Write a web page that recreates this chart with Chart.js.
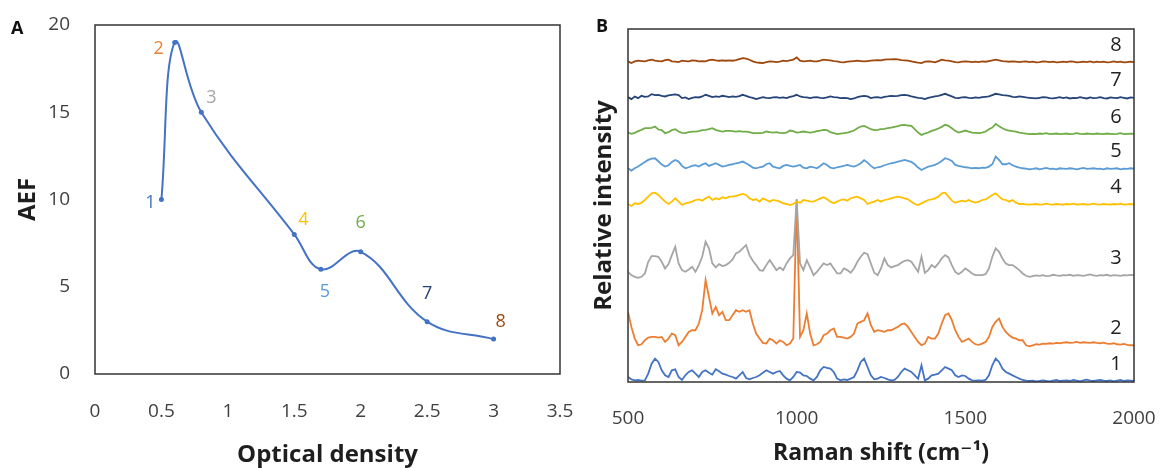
<!DOCTYPE html>
<html><head><meta charset="utf-8">
<script src="https://cdn.jsdelivr.net/npm/chart.js@4/dist/chart.umd.min.js"></script>
<style>
html,body{margin:0;padding:0;background:#fff;}
#wrap{position:relative;width:1163px;height:468px;overflow:hidden;font-family:'Open Sans',sans-serif;}
#ca{position:absolute;left:0;top:0;}
#cb{position:absolute;left:590px;top:0;}
.panel{position:absolute;font-weight:bold;font-size:18px;line-height:24px;color:#111;}
</style></head><body>
<div id="wrap">
<canvas id="ca" width="590" height="468"></canvas>
<canvas id="cb" width="573" height="468"></canvas>
<div class="panel" style="left:11px;top:15px">A</div>
<div class="panel" style="left:596px;top:13px">B</div>
</div>
<script>
// ---------- Panel A data ----------
const odValues   = [0.5, 0.6, 0.8, 1.5, 1.7, 2.0, 2.5, 3.0];
const aefValues  = [10, 19, 15, 8, 6, 7, 3, 2];
const pointLabels = ['1','2','3','4','5','6','7','8'];
const xTickStepA = 0.5, xMinA = 0, xMaxA = 3.5;
const yTickStepA = 5, yMinA = 0, yMaxA = 20;

// ---------- Panel B data ----------
const ramanStart = 500, ramanEnd = 2000, ramanStep = 10;
const xTicksB = [500, 1000, 1500, 2000];
const spectrumNames = ['1','2','3','4','5','6','7','8'];
const stackOffsets = [0, 105, 315, 530, 637, 742, 849, 957];
const spec1 = [
 15,8,5,6,4,5,25,55,70,60,
 35,20,15,35,38,15,6,20,30,35,
 25,15,30,35,28,22,38,32,25,22,
 18,15,10,20,30,12,8,12,15,20,
 28,35,30,25,30,33,20,10,5,15,
 30,28,20,18,10,5,15,35,45,42,
 40,30,10,5,8,6,10,15,35,60,
 70,45,20,8,10,15,12,8,5,6,
 15,30,40,35,30,20,10,50,5,10,
 20,22,25,35,45,40,35,20,15,20,
 18,10,5,4,5,4,6,20,50,70,
 60,40,30,25,20,15,10,6,4,3,
 4,2,3,5,3,2,4,6,3,4,
 5,3,6,4,2,5,7,4,3,5,
 6,4,3,5,2,4,6,3,5,4,
 3];
const spec2 = [
 105,60,25,5,8,20,28,30,30,28,
 30,15,25,40,35,5,15,30,45,50,
 50,70,110,200,150,100,120,95,105,80,
 80,95,110,105,110,105,110,70,40,25,
 12,10,25,20,10,20,15,5,10,25,
 440,30,50,100,40,5,8,15,35,40,
 50,55,30,30,28,25,30,40,70,75,
 80,100,65,45,50,48,45,50,50,55,
 60,68,70,60,45,30,15,5,10,30,
 25,25,40,70,95,100,80,50,30,15,
 20,25,15,8,6,10,15,30,60,75,
 85,60,45,35,28,25,20,20,5,2,
 5,8,7,10,9,11,10,12,11,13,
 14,12,13,15,12,14,13,12,14,12,
 11,13,10,9,11,8,7,9,6,5,
 5];
const spec3 = [
 15,5,0,-3,0,10,45,62,62,60,
 45,25,38,65,90,40,20,15,22,30,
 15,35,60,105,85,40,28,38,32,35,
 42,52,70,75,85,95,65,48,35,20,
 18,35,50,35,20,28,20,40,55,65,
 233,40,20,50,28,5,15,28,40,35,
 40,25,10,10,25,20,12,25,45,60,
 72,68,40,12,5,25,55,35,28,32,
 35,42,48,50,45,30,15,60,12,20,
 35,28,40,55,65,58,35,15,8,15,
 25,18,10,5,5,5,8,25,60,85,
 75,55,40,35,35,28,20,10,3,0,
 2,4,3,5,2,3,6,4,3,5,
 4,6,3,5,4,3,5,7,4,3,
 5,4,6,3,5,4,3,5,4,6,
 5];
const spec4 = [
 3,-3,5,3,7,15,25,35,37,30,
 20,10,3,10,20,10,0,5,7,10,
 15,17,13,20,25,15,20,17,23,20,
 25,25,27,30,33,30,20,15,17,10,
 20,15,10,15,13,10,5,3,0,3,
 10,7,15,13,11,10,15,20,23,17,
 10,5,10,15,17,13,20,23,25,20,
 15,3,7,10,15,10,15,17,20,23,
 25,23,20,17,10,3,0,5,10,15,
 17,20,25,35,37,25,13,7,10,13,
 10,15,10,7,10,15,17,23,30,35,
 25,17,15,10,15,7,3,3,2,1,
 2,3,1,2,4,2,1,3,2,1,
 3,2,4,1,2,3,1,2,4,2,
 1,3,2,1,3,2,4,1,2,3,
 2];
const spec5 = [
 3,-4,3,8,15,22,28,32,33,24,
 14,8,12,22,28,23,10,3,6,10,
 12,8,14,18,10,14,18,13,8,10,
 13,15,18,20,23,18,12,5,3,6,
 8,15,18,8,5,3,10,13,10,8,
 10,13,5,3,8,6,3,10,18,13,
 5,3,6,8,10,13,10,8,12,18,
 27,20,10,3,6,8,12,15,18,20,
 23,25,28,25,22,15,5,-2,3,8,
 10,13,18,25,33,30,25,13,10,8,
 6,5,3,4,3,5,4,8,15,38,
 28,15,15,18,12,8,5,3,2,0,
 1,3,0,2,4,1,2,0,3,2,
 1,3,2,0,2,4,1,2,3,1,
 2,0,3,1,2,3,0,2,1,3,
 2];
const spec6 = [
 5,1,4,9,13,18,18,19,23,14,
 12,3,6,12,15,8,4,3,6,8,
 8,9,12,13,15,18,13,10,8,10,
 10,9,8,9,8,8,6,3,3,3,
 4,8,6,5,6,4,3,5,11,9,
 5,6,8,6,5,6,9,11,13,12,
 6,3,0,2,3,5,8,11,18,23,
 25,20,15,12,13,15,16,18,20,22,
 24,27,28,26,25,15,5,-2,2,5,
 10,13,17,22,28,25,18,10,5,8,
 11,8,5,4,3,5,8,15,20,31,
 24,18,13,11,9,8,5,3,2,0,
 1,0,2,1,3,0,1,2,0,1,
 2,0,1,3,1,0,2,1,0,2,
 1,0,2,1,0,1,3,0,1,2,
 1];
const spec7 = [
 4,-2,6,1,8,5,6,13,10,11,
 8,6,9,11,12,10,1,3,-2,2,
 4,3,6,11,8,4,6,5,8,6,
 4,6,5,7,11,8,4,2,-2,1,
 4,2,1,3,4,2,3,1,5,7,
 11,6,4,3,1,3,4,2,1,3,
 6,4,3,1,2,1,-2,0,4,6,
 8,6,1,3,4,2,5,6,8,7,
 8,10,11,9,6,4,2,1,-2,2,
 4,6,8,11,14,10,6,2,1,3,
 4,2,1,3,2,4,5,6,10,14,
 12,10,9,8,5,4,6,5,3,2,
 1,0,2,4,3,1,0,2,4,1,
 3,0,2,1,4,2,0,3,1,2,
 4,1,0,3,2,1,4,2,0,3,
 2];
const spec8 = [
 3,-2,3,5,4,3,6,8,5,4,
 3,7,8,3,2,1,5,4,3,6,
 5,3,4,3,7,8,6,5,6,5,
 6,5,7,10,13,11,8,3,0,-1,
 -2,1,3,2,1,2,5,4,6,8,
 15,5,3,4,5,3,3,5,8,7,
 6,4,3,1,0,2,3,4,5,4,
 3,4,5,6,7,6,8,9,9,10,
 9,7,6,5,3,1,-1,-2,2,3,
 2,0,4,8,6,5,3,1,0,2,
 3,2,1,2,1,3,2,4,6,8,
 6,4,3,2,3,2,1,2,3,1,
 2,0,1,3,2,1,2,0,1,2,
 1,3,2,0,1,2,1,3,0,2,
 1,2,0,1,3,1,2,0,1,2,
 1];
const spectra = [spec1, spec2, spec3, spec4, spec5, spec6, spec7, spec8];
const intensityMax = 1057;

// ---------- styles ----------
const palette = ['#4472C4','#ED7D31','#A5A5A5','#FFC000','#5B9BD5','#70AD47','#264478','#9E480E'];
const labelOffsetsA = [[-11,3],[-16,6],[10,-14],[9,-15],[4,23],[0,-29],[0,-28],[7,-17]];
const FONT = "'Open Sans', 'DejaVu Sans', sans-serif";
const tickColor = '#404040';
const titleColor = '#1e1e1e';

Chart.defaults.font.family = FONT;

const noScalePadding = s => { s.paddingLeft = 0; s.paddingRight = 0; s.paddingTop = 0; s.paddingBottom = 0; };

const boxPlugin = {
  id: 'box',
  afterDraw(chart) {
    const {ctx, chartArea: a} = chart;
    ctx.save();
    ctx.strokeStyle = '#333';
    ctx.lineWidth = 1.5;
    ctx.strokeRect(a.left, a.top, a.right - a.left, a.bottom - a.top);
    ctx.restore();
  }
};

const pointLabelPlugin = {
  id: 'ptLabels',
  afterDatasetsDraw(chart) {
    const meta = chart.getDatasetMeta(0);
    const ctx = chart.ctx;
    ctx.save();
    ctx.font = "18px " + FONT;
    ctx.textAlign = 'center';
    ctx.textBaseline = 'middle';
    meta.data.forEach((pt, i) => {
      ctx.fillStyle = palette[i];
      ctx.fillText(pointLabels[i], pt.x + labelOffsetsA[i][0], pt.y + labelOffsetsA[i][1]);
    });
    ctx.restore();
  }
};

const seriesLabelPlugin = {
  id: 'seriesLabels',
  afterDatasetsDraw(chart) {
    const ctx = chart.ctx, ys = chart.scales.y, a = chart.chartArea;
    ctx.save();
    ctx.font = "20px " + FONT;
    ctx.fillStyle = '#222';
    ctx.textAlign = 'center';
    ctx.textBaseline = 'middle';
    spectra.forEach((s, k) => {
      const y = ys.getPixelForValue(stackOffsets[k] + s[s.length - 1]) - 17;
      ctx.fillText(spectrumNames[k], a.right - 18, y);
    });
    ctx.restore();
  }
};

// ---------- Chart A ----------
new Chart(document.getElementById('ca'), {
  type: 'line',
  data: {
    datasets: [{
      data: odValues.map((x, i) => ({x, y: aefValues[i]})),
      borderColor: '#4472C4',
      backgroundColor: '#4472C4',
      borderWidth: 2,
      pointRadius: 2.5,
      pointBorderWidth: 0,
      tension: 0.4,
      fill: false
    }]
  },
  options: {
    responsive: false, animation: false,
    layout: {padding: {top: 25, right: 30, left: 0, bottom: 0}},
    plugins: {legend: {display: false}, tooltip: {enabled: false}},
    scales: {
      x: {
        type: 'linear', min: xMinA, max: xMaxA,
        grid: {display: false, drawTicks: false}, border: {display: false},
        ticks: {stepSize: xTickStepA, padding: 26, color: tickColor, font: {size: 19}, callback: v => String(v)},
        title: {display: true, text: 'Optical density', color: titleColor, font: {size: 24, weight: 'bold', lineHeight: 1.1}, padding: {top: 0, bottom: 0}},
        afterFit: s => { s.height = 94; noScalePadding(s); }
      },
      y: {
        min: yMinA, max: yMaxA,
        grid: {display: false, drawTicks: false}, border: {display: false},
        ticks: {stepSize: yTickStepA, padding: 25, color: tickColor, font: {size: 19}, callback: v => String(v)},
        title: {display: true, text: 'AEF', color: titleColor, font: {size: 24, weight: 'bold', lineHeight: 1.2}, padding: {top: 14, bottom: 0}},
        afterFit: s => { s.width = 95; noScalePadding(s); }
      }
    }
  },
  plugins: [boxPlugin, pointLabelPlugin]
});

// ---------- Chart B ----------
const wavenumbers = [];
for (let w = ramanStart; w <= ramanEnd; w += ramanStep) wavenumbers.push(w);

new Chart(document.getElementById('cb'), {
  type: 'line',
  data: {
    datasets: spectra.map((s, k) => ({
      label: spectrumNames[k],
      data: s.map((v, i) => ({x: wavenumbers[i], y: v + stackOffsets[k]})),
      borderColor: palette[k],
      borderWidth: 1.8,
      pointRadius: 0,
      tension: 0,
      fill: false,
      order: 10 - k
    }))
  },
  options: {
    responsive: false, animation: false,
    layout: {padding: {top: 29, right: 29, left: 0, bottom: 0}},
    plugins: {legend: {display: false}, tooltip: {enabled: false}},
    scales: {
      x: {
        type: 'linear', min: ramanStart, max: ramanEnd,
        grid: {display: false, drawTicks: false}, border: {display: false},
        afterBuildTicks: s => { s.ticks = xTicksB.map(v => ({value: v})); },
        ticks: {padding: 25, color: tickColor, font: {size: 19}, callback: v => String(v)},
        title: {display: true, text: 'Raman shift (cm\u207B\u00B9)', color: titleColor, font: {size: 23, weight: 'bold', lineHeight: 1.1}, padding: {top: 0, bottom: 2}},
        afterFit: s => { s.height = 86; noScalePadding(s); }
      },
      y: {
        min: 0, max: intensityMax,
        grid: {display: false, drawTicks: false}, border: {display: false},
        ticks: {display: false},
        title: {display: true, text: 'Relative intensity', color: titleColor, font: {size: 24, weight: 'bold', lineHeight: 1.2}, padding: {top: 0, bottom: 0}},
        afterFit: s => { s.width = 38; noScalePadding(s); }
      }
    }
  },
  plugins: [boxPlugin, seriesLabelPlugin]
});
</script>
</body></html>
